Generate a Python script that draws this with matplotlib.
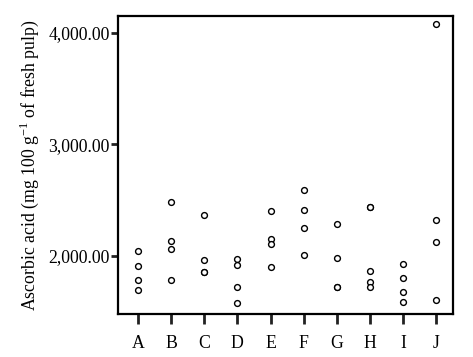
import matplotlib
matplotlib.use("Agg")
import matplotlib.pyplot as plt

plt.rcParams['font.family'] = ['Liberation Serif', 'DejaVu Serif']
plt.rcParams['mathtext.fontset'] = 'custom'
plt.rcParams['mathtext.rm'] = 'Liberation Serif'

groups = ['A', 'B', 'C', 'D', 'E', 'F', 'G', 'H', 'I', 'J']
values = [
    [2045, 1910, 1784, 1694],
    [2486, 2135, 2057, 1784],
    [2367, 1961, 1853, 1853],
    [1967, 1919, 1714, 1577],
    [2399, 2150, 2105, 1895],
    [2592, 2408, 2246, 2006],
    [2282, 1979, 1718, 1718],
    [2435, 2435, 1859, 1763, 1721],
    [1922, 1796, 1670, 1583],
    [4081, 2318, 2120, 1601],
]
yticks = [2000, 3000, 4000]

fig = plt.figure(figsize=(4.73, 3.57), dpi=100)
ax = fig.add_axes([0.2495, 0.121, 0.708, 0.834])

for i, vals in enumerate(values):
    ax.plot([i] * len(vals), vals, 'o', mfc='white', mec='black',
            ms=4.2, mew=1.0, linestyle='none')

ax.set_xlim(-0.6, 9.5)
ax.set_ylim(1477, 4153)
ax.set_xticks(range(len(groups)))
ax.set_xticklabels(groups)
ax.set_yticks(yticks)
ax.set_yticklabels(['{:,.2f}'.format(v) for v in yticks])
ax.set_ylabel('Ascorbic acid (mg 100 g$^{\\mathregular{-1}}$ of fresh pulp)',
              fontsize=12.8, labelpad=5)

for s in ax.spines.values():
    s.set_linewidth(1.6)
ax.tick_params(axis='both', width=2, labelsize=12.8, color='#222222')
ax.tick_params(axis='x', length=7, pad=8)
ax.tick_params(axis='y', length=5, pad=1)

fig.savefig('out.png', dpi=100)
